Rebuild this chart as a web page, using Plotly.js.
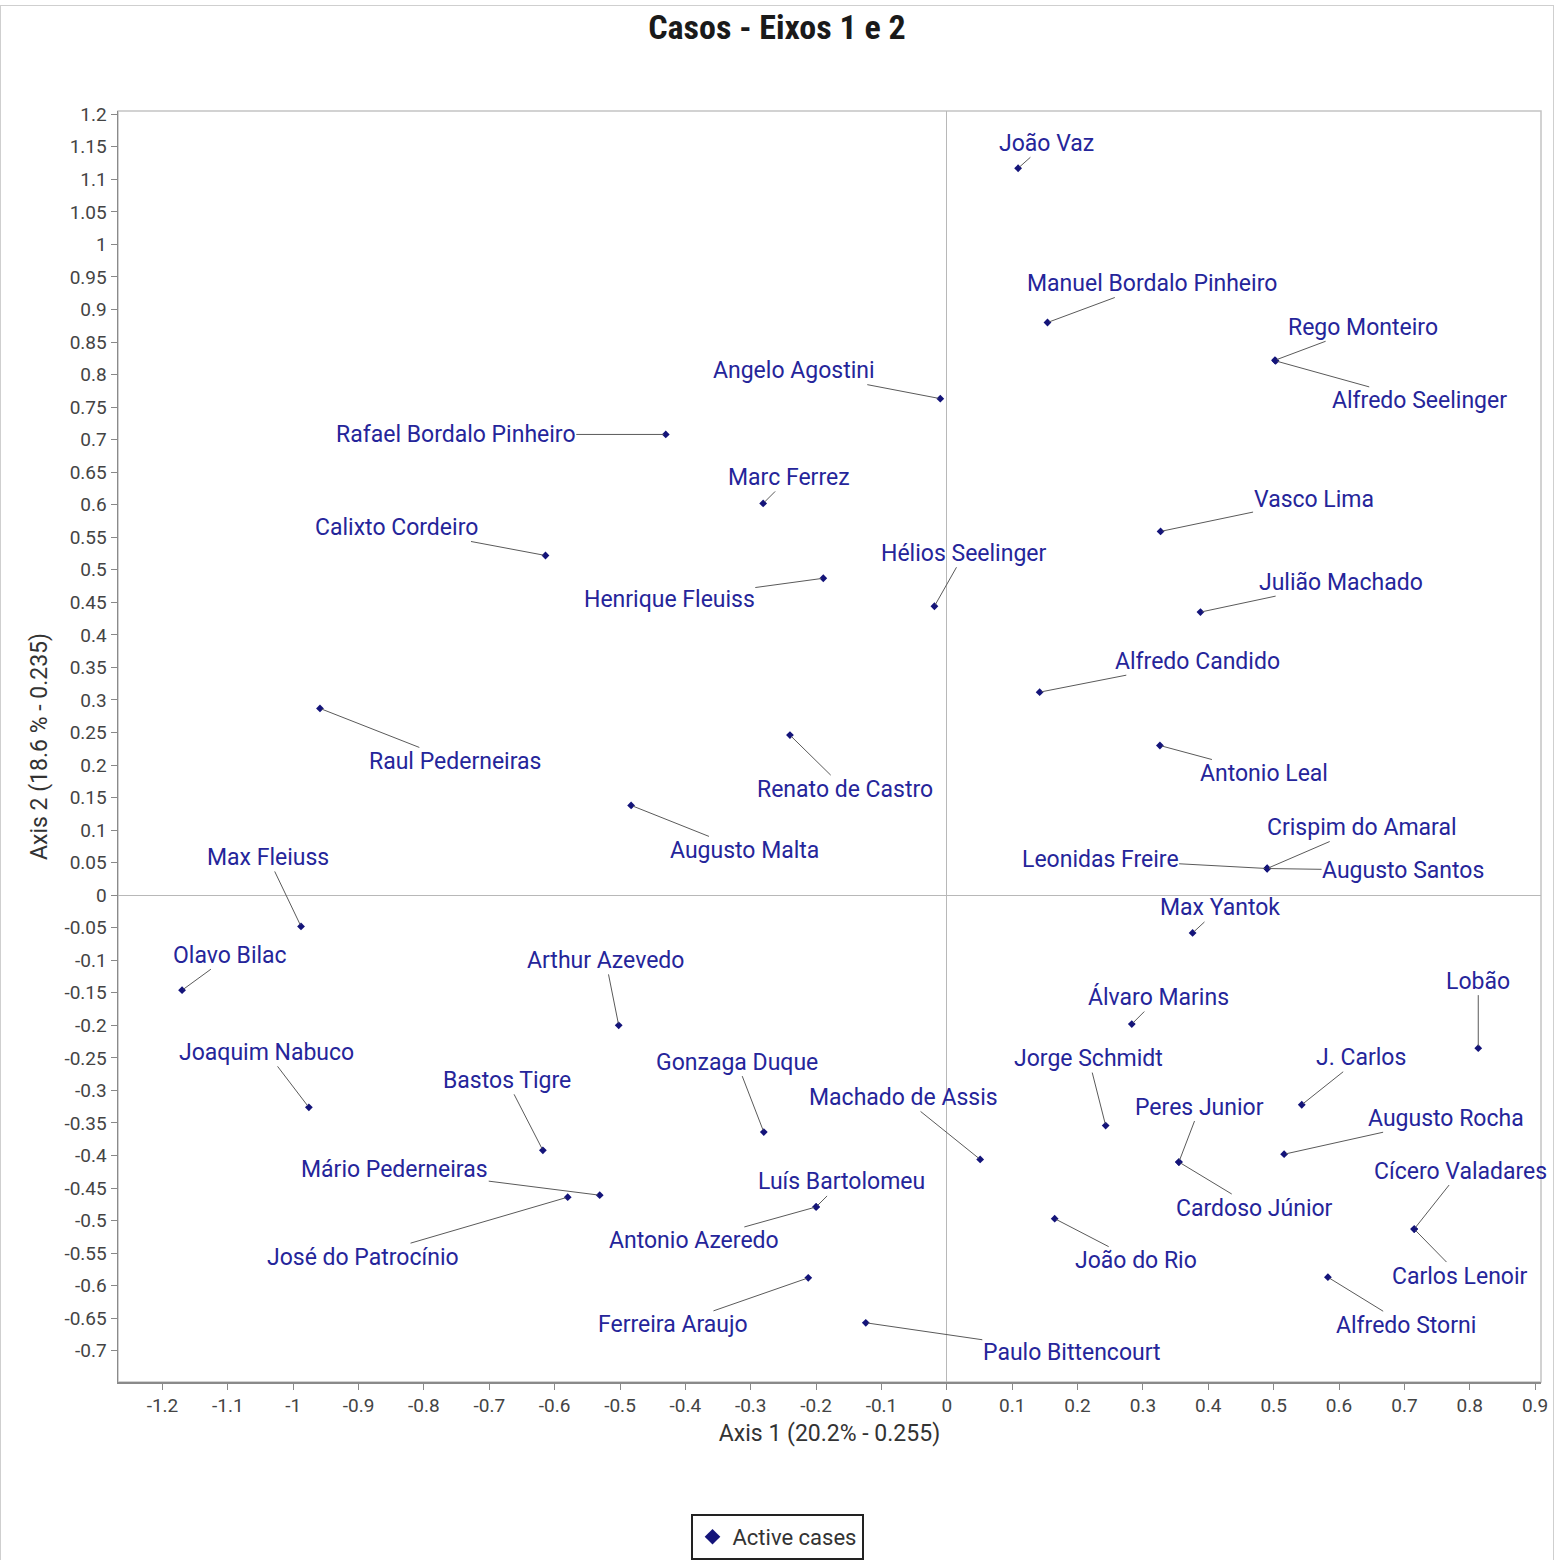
<!DOCTYPE html>
<html>
<head>
<meta charset="utf-8">
<script src="https://cdn.plot.ly/plotly-3.0.1.min.js"></script>
<style>
  html, body { margin: 0; padding: 0; background: #fff; }
  #wrap { position: absolute; left: 0; top: 5px; width: 1552px; height: 1554px;
          border-top: 1px solid #cfcfcf; border-left: 1px solid #cfcfcf; border-right: 1px solid #cfcfcf; }
  #chart { width: 1552px; height: 1554px; }
</style>
</head>
<body>
<div id="wrap"><div id="chart"></div></div>
<script>
// ---- data ----
const caseNames = [
  "João Vaz", "Manuel Bordalo Pinheiro", "Rego Monteiro", "Alfredo Seelinger", "Angelo Agostini",
  "Rafael Bordalo Pinheiro", "Marc Ferrez", "Calixto Cordeiro", "Henrique Fleuiss", "Hélios Seelinger",
  "Vasco Lima", "Julião Machado", "Alfredo Candido", "Raul Pederneiras", "Renato de Castro",
  "Antonio Leal", "Augusto Malta", "Crispim do Amaral", "Leonidas Freire", "Augusto Santos",
  "Max Fleiuss", "Max Yantok", "Olavo Bilac", "Arthur Azevedo", "Lobão",
  "Álvaro Marins", "Joaquim Nabuco", "Bastos Tigre", "Gonzaga Duque", "Jorge Schmidt",
  "J. Carlos", "Machado de Assis", "Peres Junior", "Augusto Rocha", "Mário Pederneiras",
  "Cícero Valadares", "Luís Bartolomeu", "Cardoso Júnior", "José do Patrocínio", "Antonio Azeredo",
  "João do Rio", "Carlos Lenoir", "Ferreira Araujo", "Alfredo Storni", "Paulo Bittencourt"
];
const axis1Values = [
  0.109, 0.154, 0.502, 0.503, -0.010,
  -0.430, -0.281, -0.614, -0.189, -0.019,
  0.327, 0.388, 0.142, -0.959, -0.240,
  0.326, -0.483, 0.490, 0.490, 0.490,
  -0.988, 0.376, -1.170, -0.502, 0.813,
  0.283, -0.976, -0.618, -0.280, 0.243,
  0.543, 0.051, 0.355, 0.516, -0.531,
  0.715, -0.200, 0.355, -0.580, -0.200,
  0.165, 0.715, -0.212, 0.583, -0.124
];
const axis2Values = [
  1.117, 0.880, 0.822, 0.821, 0.763,
  0.708, 0.602, 0.522, 0.487, 0.444,
  0.559, 0.435, 0.312, 0.287, 0.246,
  0.230, 0.138, 0.041, 0.041, 0.041,
  -0.048, -0.058, -0.146, -0.200, -0.235,
  -0.198, -0.326, -0.392, -0.364, -0.354,
  -0.322, -0.406, -0.410, -0.398, -0.461,
  -0.513, -0.479, -0.410, -0.464, -0.479,
  -0.497, -0.513, -0.588, -0.587, -0.657
];
// label offsets from each point, in pixels (layout only)
const labelDx = [
  28, 105, 88, 144, -146,
  -210, 26, -149, -154, 30,
  153, 141, 158, 135, 55,
  104, 113, 95, -167, 136,
  -33, 27, 48, -13, 0,
  27, -42, -36, -27, -17,
  59, -77, 21, 162, -205,
  46, 25, 76, -205, -122,
  81, 46, -135, 78, 206
];
const labelDy = [
  -25, -39, -33, 40, -28,
  0, -26, -28, 21, -53,
  -32, -30, -31, 53, 54,
  28, 45, -41, -9, 2,
  -69, -25, -35, -65, -67,
  -27, -55, -70, -70, -67,
  -47, -62, -55, -36, -26,
  -58, -25, 46, 60, 34,
  42, 47, 47, 48, 30
];
const xTickVals = [-1.2, -1.1, -1, -0.9, -0.8, -0.7, -0.6, -0.5, -0.4, -0.3, -0.2, -0.1, 0, 0.1, 0.2, 0.3, 0.4, 0.5, 0.6, 0.7, 0.8, 0.9];
const xTickText = ["-1.2", "-1.1", "-1", "-0.9", "-0.8", "-0.7", "-0.6", "-0.5", "-0.4", "-0.3", "-0.2", "-0.1", "0", "0.1", "0.2", "0.3", "0.4", "0.5", "0.6", "0.7", "0.8", "0.9"];
const yTickVals = [-0.7, -0.65, -0.6, -0.55, -0.5, -0.45, -0.4, -0.35, -0.3, -0.25, -0.2, -0.15, -0.1, -0.05, 0,
  0.05, 0.1, 0.15, 0.2, 0.25, 0.3, 0.35, 0.4, 0.45, 0.5, 0.55, 0.6, 0.65, 0.7, 0.75, 0.8, 0.85, 0.9, 0.95, 1, 1.05, 1.1, 1.15, 1.2];
const yTickText = ["-0.7", "-0.65", "-0.6", "-0.55", "-0.5", "-0.45", "-0.4", "-0.35", "-0.3", "-0.25", "-0.2", "-0.15", "-0.1", "-0.05", "0",
  "0.05", "0.1", "0.15", "0.2", "0.25", "0.3", "0.35", "0.4", "0.45", "0.5", "0.55", "0.6", "0.65", "0.7", "0.75", "0.8", "0.85", "0.9", "0.95", "1", "1.05", "1.1", "1.15", "1.2"];
const chartTitle = "Casos - Eixos 1 e 2";
const xTitle = "Axis 1 (20.2% - 0.255)";
const yTitle = "Axis 2 (18.6 % - 0.235)";
const seriesName = "Active cases";

// ---- styles ----
const labelColor = "#25259a";
const pointColor = "#14147a";
const baseFont = "Roboto, 'Open Sans', sans-serif";

const trace = {
  type: "scatter",
  mode: "markers",
  name: seriesName,
  x: axis1Values,
  y: axis2Values,
  text: caseNames,
  marker: { symbol: "diamond", size: 6, color: pointColor },
  cliponaxis: false,
  hoverinfo: "text"
};

const annotations = caseNames.map((n, i) => ({
  x: axis1Values[i], y: axis2Values[i], xref: "x", yref: "y",
  text: n,
  showarrow: true, arrowhead: 0, arrowwidth: 1, arrowcolor: "#5a5a5a",
  ax: labelDx[i], ay: labelDy[i], standoff: 2, borderpad: 0,
  font: { family: baseFont, size: 23, color: labelColor }
}));

const layout = {
  width: 1552, height: 1554,
  margin: { l: 117, r: 12, t: 105, b: 178 },
  paper_bgcolor: "#fff", plot_bgcolor: "#fff",
  title: {
    text: "<b>" + chartTitle + "</b>",
    x: 0.5, xref: "container", xanchor: "center",
    y: 0.9865, yref: "container", yanchor: "middle",
    font: { family: "'Liberation Sans Narrow', 'Roboto Condensed', 'DejaVu Sans Condensed', sans-serif", size: 34, color: "#1a1a1a" }
  },
  xaxis: {
    range: [-1.268, 0.909],
    tickmode: "array", tickvals: xTickVals, ticktext: xTickText,
    ticks: "outside", ticklen: 6, tickcolor: "#888", tickwidth: 1,
    showline: true, linecolor: "#8a8a8a", linewidth: 1.5, mirror: false,
    showgrid: false, zeroline: true, zerolinecolor: "#b8b8b8", zerolinewidth: 1,
    tickfont: { family: baseFont, size: 19, color: "#444" },
    title: { text: xTitle, font: { family: baseFont, size: 23, color: "#333" }, standoff: 8 }
  },
  yaxis: {
    range: [-0.748, 1.205],
    tickmode: "array", tickvals: yTickVals, ticktext: yTickText,
    ticks: "outside", ticklen: 6, tickcolor: "#888", tickwidth: 1,
    showline: true, linecolor: "#8a8a8a", linewidth: 1.5, mirror: false,
    showgrid: false, zeroline: true, zerolinecolor: "#b8b8b8", zerolinewidth: 1,
    tickfont: { family: baseFont, size: 19, color: "#444" },
    title: { text: yTitle, font: { family: baseFont, size: 23, color: "#333" }, standoff: 10 }
  },
  shapes: [{
    type: "rect", xref: "paper", yref: "paper", x0: 0, x1: 1, y0: 0, y1: 1,
    line: { color: "#c4c4c4", width: 1.5 }, layer: "below"
  }],
  annotations: annotations,
  showlegend: true,
  legend: {
    orientation: "h", xref: "container", yref: "container",
    x: 0.5, xanchor: "center", y: 0.0148, yanchor: "middle",
    bordercolor: "#222", borderwidth: 2, bgcolor: "#fff",
    itemsizing: "constant",
    font: { family: baseFont, size: 22, color: "#333" }
  },
  hovermode: "closest"
};

Plotly.newPlot("chart", [trace], layout, { displayModeBar: false, staticPlot: true });
</script>
</body>
</html>
